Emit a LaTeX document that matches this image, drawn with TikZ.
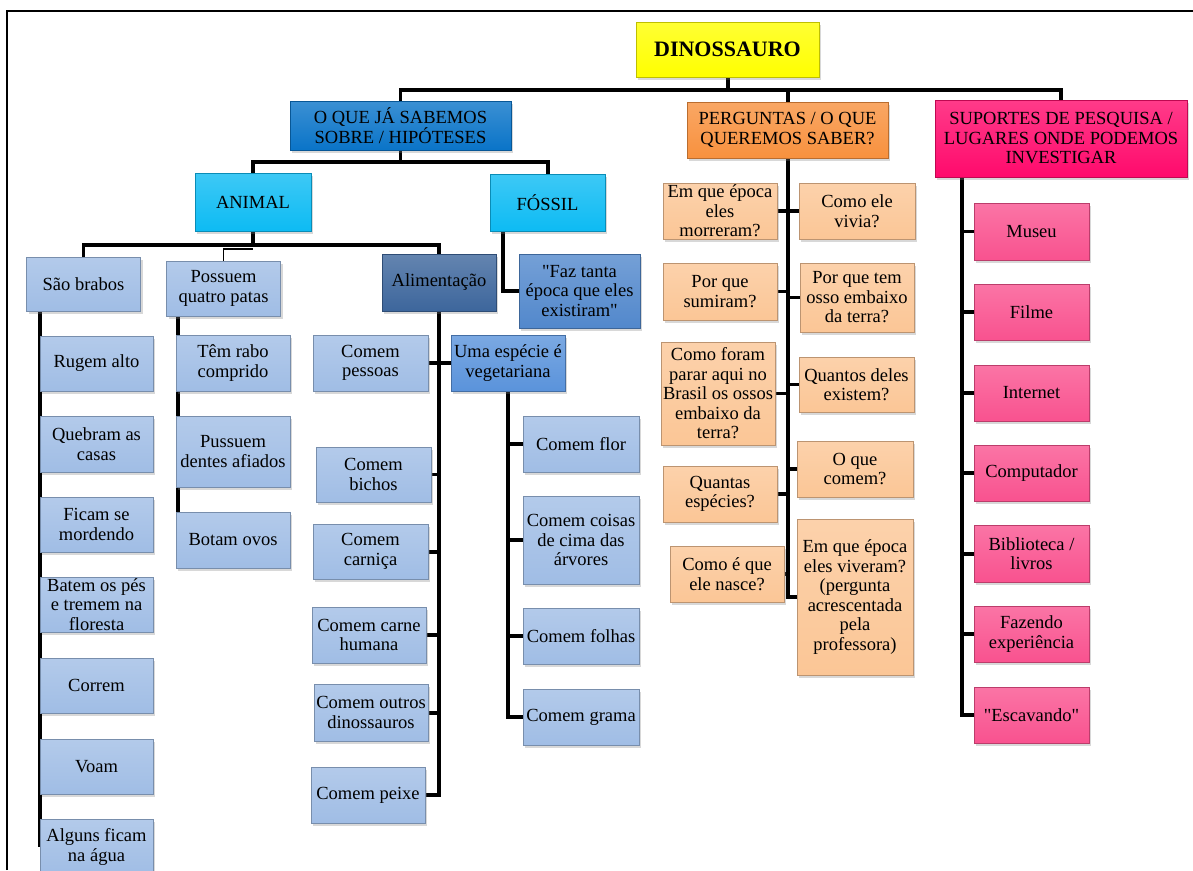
\documentclass[tikz,border=0pt]{standalone}
\usepackage{fontspec}
\setmainfont{Liberation Serif}
\usetikzlibrary{shadows,backgrounds}

\definecolor{dinoyellow}{HTML}{FFFF00}
\definecolor{headblue}{HTML}{0A74C8}
\definecolor{animalcyan}{HTML}{0DBBF3}
\definecolor{askorange}{HTML}{F8913E}
\definecolor{placepink}{HTML}{FF0A6C}
\definecolor{leafblue}{HTML}{A0BDE5}
\definecolor{foodblue}{HTML}{3D669C}
\definecolor{midblue}{HTML}{5288CC}
\definecolor{vegblue}{HTML}{5A93DB}
\definecolor{askpeach}{HTML}{FBC696}
\definecolor{placerose}{HTML}{F9528F}

\begin{document}
\begin{tikzpicture}[x=1pt, y=-1pt,
    mapbox/.style={draw=#1!75!black, line width=0.3pt, top color=#1!80!white, bottom color=#1,
        align=center, inner sep=0pt, minimum width=114pt, minimum height=56pt, text=black,
        font=\fontsize{18.5}{19.5}\selectfont,
        drop shadow={opacity=0.3, shadow xshift=2pt, shadow yshift=-2.5pt}},
    link/.style={line width = 1.4mm},
    thinlink/.style={line width = 0.5mm}]
    \useasboundingbox (0,0) rectangle (1193,870);

    % topo
    \node[mapbox=dinoyellow, minimum width=183pt, minimum height=55pt, font=\fontsize{22}{24}\selectfont\bfseries] (dino) at (727.5,49.5) {DINOSSAURO};
    \node[mapbox=headblue, minimum width=221pt, minimum height=49pt] (sabemos) at (400.5,125.5) {O QUE JÁ SABEMOS\\SOBRE / HIPÓTESES};
    \node[mapbox=askorange, minimum width=201pt] (perguntas) at (787.5,130) {PERGUNTAS / O QUE\\QUEREMOS SABER?};
    \node[mapbox=placepink, minimum width=252pt, minimum height=77pt] (suportes) at (1061,138.5) {SUPORTES DE PESQUISA /\\LUGARES ONDE PODEMOS\\INVESTIGAR};

    % o que ja sabemos
    \node[mapbox=animalcyan, minimum width=116pt, minimum height=58pt] (animal) at (253,202) {ANIMAL};
    \node[mapbox=animalcyan, minimum width=115pt, minimum height=57pt] (fossil) at (547.5,202.5) {FÓSSIL};
    \node[mapbox=leafblue, minimum width=114pt, minimum height=54pt] (brabos) at (83.5,284) {São brabos};
    \node[mapbox=leafblue, minimum height=55pt] (patas) at (223.5,288.5) {Possuem\\quatro patas};
    \node[mapbox=foodblue, minimum height=57pt] (alim) at (439,282.5) {Alimentação};
    \node[mapbox=midblue, minimum width=121pt, minimum height=74pt] (faz) at (579.5,291) {\textquotedbl Faz tanta\\época que eles\\existiram\textquotedbl};

    \node[mapbox=leafblue, minimum width=113pt, minimum height=55pt] (rugem) at (96.5,363.5) {Rugem alto};
    \node[mapbox=leafblue, minimum width=113pt] (quebram) at (96.5,444) {Quebram as\\casas};
    \node[mapbox=leafblue, minimum width=113pt, minimum height=55pt] (ficam) at (96.5,524.5) {Ficam se\\mordendo};
    \node[mapbox=leafblue, minimum width=113pt, minimum height=55pt] (batem) at (96.5,604.5) {Batem os pés\\e tremem na\\floresta};
    \node[mapbox=leafblue, minimum width=113pt, minimum height=55pt] (correm) at (96.5,685.5) {Correm};
    \node[mapbox=leafblue, minimum width=113pt, minimum height=55pt] (voam) at (96.5,766.5) {Voam};
    \node[mapbox=leafblue, minimum width=113pt] (alguns) at (96.5,847) {Alguns ficam\\na água};

    \node[mapbox=leafblue] (rabo) at (233,363) {Têm rabo\\comprido};
    \node[mapbox=leafblue, minimum height=71pt] (dentes) at (233,451.5) {Pussuem\\dentes afiados};
    \node[mapbox=leafblue] (ovos) at (233,540) {Botam ovos};

    \node[mapbox=leafblue, minimum width=115pt] (pessoas) at (370.5,363) {Comem\\pessoas};
    \node[mapbox=vegblue] (vegetal) at (508,363) {Uma espécie é\\vegetariana};
    \node[mapbox=leafblue, minimum width=115pt, minimum height=55pt] (bichos) at (373.5,474.5) {Comem\\bichos};
    \node[mapbox=leafblue, minimum width=115pt, minimum height=55pt] (carnica) at (370.5,551.5) {Comem\\carniça};
    \node[mapbox=leafblue] (humana) at (369,635) {Comem carne\\humana};
    \node[mapbox=leafblue, minimum height=57pt] (outros) at (371,712.5) {Comem outros\\dinossauros};
    \node[mapbox=leafblue] (peixe) at (368,795) {Comem peixe};

    \node[mapbox=leafblue, minimum width=116pt] (flor) at (581,444) {Comem flor};
    \node[mapbox=leafblue, minimum width=116pt, minimum height=88pt] (arvores) at (581,540) {Comem coisas\\de cima das\\árvores};
    \node[mapbox=leafblue, minimum width=116pt] (folhas) at (581,636) {Comem folhas};
    \node[mapbox=leafblue, minimum width=116pt] (grama) at (581,717) {Comem grama};

    % perguntas
    \node[mapbox=askpeach] (morreram) at (720,211) {Em que época\\eles\\morreram?};
    \node[mapbox=askpeach, minimum width=116pt] (vivia) at (857,211) {Como ele\\vivia?};
    \node[mapbox=askpeach, minimum height=57pt] (sumiram) at (720,291.5) {Por que\\sumiram?};
    \node[mapbox=askpeach, minimum height=69pt] (osso) at (857,297.5) {Por que tem\\osso embaixo\\da terra?};
    \node[mapbox=askpeach, minimum height=103pt] (brasil) at (718,393.5) {Como foram\\parar aqui no\\Brasil os ossos\\embaixo da\\terra?};
    \node[mapbox=askpeach, minimum width=115pt, minimum height=55pt] (quantos) at (856.5,384.5) {Quantos deles\\existem?};
    \node[mapbox=askpeach, minimum width=116pt] (comem) at (855,469) {O que\\comem?};
    \node[mapbox=askpeach] (especies) at (720,494) {Quantas\\espécies?};
    \node[mapbox=askpeach] (nasce) at (727,574) {Como é que\\ele nasce?};
    \node[mapbox=askpeach, minimum width=116pt, minimum height=156pt] (viveram) at (855,597) {Em que época\\eles viveram?\\(pergunta\\acrescentada\\pela\\professora)};

    % suportes
    \node[mapbox=placerose, minimum width=115pt, minimum height=57pt] (museu) at (1031.5,231.5) {Museu};
    \node[mapbox=placerose, minimum width=115pt] (filme) at (1031.5,312) {Filme};
    \node[mapbox=placerose, minimum width=115pt] (internet) at (1031.5,393) {Internet};
    \node[mapbox=placerose, minimum width=115pt] (computador) at (1031.5,473) {Computador};
    \node[mapbox=placerose, minimum width=115pt, minimum height=57pt] (biblioteca) at (1031.5,553.5) {Biblioteca /\\livros};
    \node[mapbox=placerose, minimum width=115pt] (fazendo) at (1031.5,634) {Fazendo\\experiência};
    \node[mapbox=placerose, minimum width=115pt] (escavando) at (1031.5,715) {\textquotedbl Escavando\textquotedbl};

    \begin{scope}[on background layer]
        \fill[white] (0,0) rectangle (1193,870);
        \coordinate (dinoj) at (727.5,90);
        \coordinate (sabj) at (400.5,162);
        \coordinate (animj) at (253,245);
        \coordinate (animk) at (253,249);
        \coordinate (fostrunk) at (503,0);
        \coordinate (brabtrunk) at (40,0);
        \coordinate (patatrunk) at (178,0);
        \coordinate (alimtrunk) at (439,0);
        \coordinate (suptrunk) at (962,0);

        \draw[link] (dino.south) -- (dinoj);
        \draw[link] (sabemos.north) |- (dinoj) -| (suportes.north);
        \draw[link] (perguntas.north) |- (dinoj);

        \draw[link] (sabemos.south) -- (sabj);
        \draw[link] (animal.north) |- (sabj) -| (fossil.north);
        \draw[link] (fossil.south -| fostrunk) |- (faz.west);

        \draw[link] (animal.south) -- (animj);
        \draw[link] (brabos.north) |- (animj) -| (alim.north);
        \draw[thinlink] (patas.north) |- (animk);

        \draw[link] (brabos.south -| brabtrunk) -- (alguns.west -| brabtrunk);
        \draw[link] (patas.south -| patatrunk) -- (ovos.west -| patatrunk);

        \draw[link] (alim.south) -- (peixe.east -| alimtrunk) -- (peixe.east);
        \draw[link] (pessoas.east) -- (vegetal.west);
        \draw[link] (bichos.east) -- (bichos.east -| alimtrunk);
        \draw[link] (carnica.east) -- (carnica.east -| alimtrunk);
        \draw[link] (humana.east) -- (humana.east -| alimtrunk);
        \draw[link] (outros.east) -- (outros.east -| alimtrunk);

        \draw[link] (vegetal.south) |- (grama.west);
        \draw[link] (flor.west) -- (flor.west -| vegetal.south);
        \draw[link] (arvores.west) -- (arvores.west -| vegetal.south);
        \draw[link] (folhas.west) -- (folhas.west -| vegetal.south);

        \draw[link] (perguntas.south) |- (viveram.west);
        \draw[link] (morreram.east) -- (vivia.west);
        \draw[link] (sumiram.east) -- (sumiram.east -| perguntas.south);
        \draw[link] (osso.west) -- (osso.west -| perguntas.south);
        \draw[link] (brasil.east) -- (brasil.east -| perguntas.south);
        \draw[link] (quantos.west) -- (quantos.west -| perguntas.south);
        \draw[link] (comem.west) -- (comem.west -| perguntas.south);
        \draw[link] (especies.east) -- (especies.east -| perguntas.south);
        \draw[link] (nasce.east) -- (nasce.east -| perguntas.south);

        \draw[link] (suportes.south -| suptrunk) |- (escavando.west);
        \draw[link] (museu.west) -- (museu.west -| suptrunk);
        \draw[link] (filme.west) -- (filme.west -| suptrunk);
        \draw[link] (internet.west) -- (internet.west -| suptrunk);
        \draw[link] (computador.west) -- (computador.west -| suptrunk);
        \draw[link] (biblioteca.west) -- (biblioteca.west -| suptrunk);
        \draw[link] (fazendo.west) -- (fazendo.west -| suptrunk);
    \end{scope}

    % moldura
    \draw[line width = 1.2pt] (7,870) -- (7,11) -- (1193,11);
\end{tikzpicture}
\end{document}
